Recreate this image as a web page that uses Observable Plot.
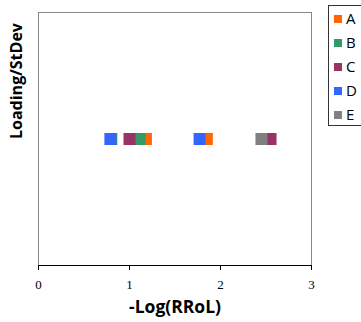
<!DOCTYPE html>
<html><head><meta charset="utf-8">
<script src="https://cdn.jsdelivr.net/npm/d3@7"></script>
<script src="https://cdn.jsdelivr.net/npm/@observablehq/plot@0.6"></script>
<style>
body{margin:0;background:#fff;}
#wrap{position:relative;width:361px;height:322px;overflow:hidden;}
#legend{position:absolute;left:328px;top:5px;width:40px;height:119px;border:1px solid #333;background:#fff;font-family:"Open Sans",sans-serif;font-size:15px;}
.item{position:absolute;left:5px;height:18px;line-height:18px;}
.sw{display:inline-block;width:8px;height:8px;margin-right:4px;vertical-align:1px;}
.xt text{font-family:"Liberation Serif",serif;}
</style></head>
<body><div id="wrap"><div id="legend"></div></div>
<script>
const series = ["A","B","C","D","E"];
const colors = ["#FF6600","#339966","#993366","#3366FF","#808080"];
const seriesX = {
  A: [1.18, 1.85],
  B: [0.80, 1.11],
  C: [1.00, 2.55],
  D: [0.79, 1.77],
  E: [2.45]
};
const loading = 0;
const xTicks = [0,1,2,3];

const data = [];
series.forEach(s => seriesX[s].forEach(x => data.push({s, x, y: loading})));

const plot = Plot.plot({
  width: 361, height: 322,
  marginLeft: 38, marginRight: 50, marginTop: 12, marginBottom: 57,
  x: {domain: [0,3], ticks: xTicks},
  y: {domain: [-1,1], axis: null},
  color: {domain: series, range: colors},
  style: {background: "transparent"},
  marks: [
    Plot.frame({stroke: "#888"}),
    Plot.ruleY([-1], {stroke: "#000", strokeWidth: 1}),
    Plot.axisX({ticks: xTicks, tickFormat: d3.format("d"), tickSize: 5, tickPadding: 9, label: null, fontSize: 13, stroke: "#000", className: "xt"}),
    Plot.dot(data, {x: "x", y: "y", fill: "s", symbol: "square", r: Math.sqrt(144/Math.PI), stroke: null}),
    Plot.text(["-Log(RRoL)"], {frameAnchor: "bottom", dy: 47, fontSize: 17.5, fontWeight: "bold", fontFamily: "Open Sans, sans-serif", fill: "#000"}),
    Plot.text(["Loading/StDev"], {frameAnchor: "left", dx: -22, rotate: -90, fontSize: 16, fontWeight: "bold", fontFamily: "Open Sans, sans-serif", fill: "#000"})
  ]
});
document.getElementById("wrap").prepend(plot);

const leg = document.getElementById("legend");
series.forEach((s,i) => {
  const d = document.createElement("div");
  d.className = "item";
  d.style.top = (3 + i*24) + "px";
  d.innerHTML = `<span class="sw" style="background:${colors[i]}"></span>${s}`;
  leg.appendChild(d);
});
</script></body></html>
